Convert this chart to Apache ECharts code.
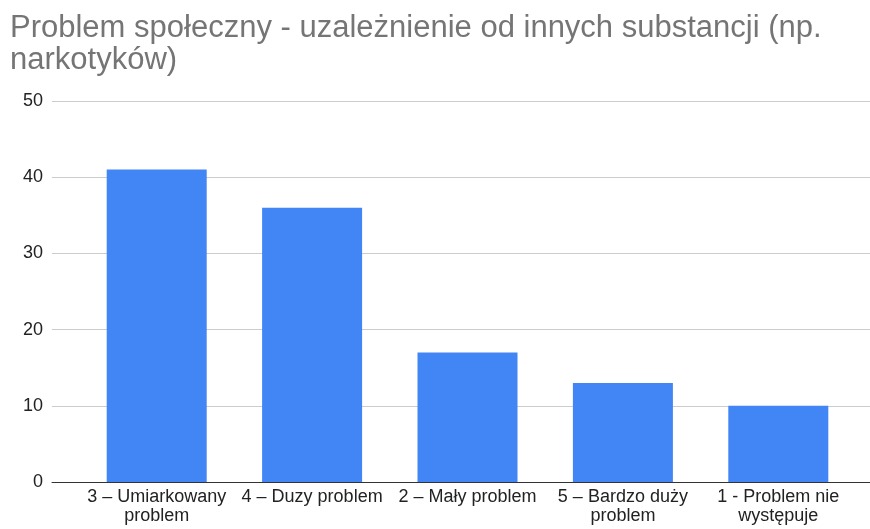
<!DOCTYPE html>
<html>
<head>
<meta charset="utf-8">
<script src="https://cdn.jsdelivr.net/npm/echarts@6/dist/echarts.min.js"></script>
<style>
	html, body { margin: 0; padding: 0; background: #fff; }
	#chart { width: 870px; height: 529px; }
</style>
</head>
<body>
<div id="chart"></div>
<script>
	// dane wykresu
	var titleText = 'Problem społeczny - uzależnienie od innych substancji (np.\nnarkotyków)';
	var categories = ['3 – Umiarkowany\nproblem', '4 – Duzy problem', '2 – Mały problem', '5 – Bardzo duży\nproblem', '1 - Problem nie\nwystępuje'];
	var values = [41, 36, 17, 13, 10];
	var yMin = 0, yMax = 50, yStep = 10;

	var chart = echarts.init(document.getElementById('chart'));

	var option = {
		animation: false,
		title: {
			text: titleText,
			left: 5,
			top: 7,
			textStyle: {
				fontFamily: 'Liberation Sans, Arial, sans-serif',
				fontSize: 31,
				fontWeight: 'normal',
				color: '#757575',
				lineHeight: 32
			}
		},
		grid: [
			{ left: 52, right: 0, top: 101, bottom: 47 },   // siatka + oś Y
			{ left: 79, right: 14, top: 101, bottom: 47 }   // słupki
		],
		xAxis: [{
			gridIndex: 0,
			type: 'category',
			data: categories,
			axisLine: { lineStyle: { color: '#333', width: 1 } },
			axisTick: { show: false },
			axisLabel: { show: false }
		}, {
			gridIndex: 1,
			type: 'category',
			data: categories,
			axisLine: { show: false },
			axisTick: { show: false },
			axisLabel: {
				interval: 0,
				margin: 6,
				color: '#222',
				fontSize: 18,
				lineHeight: 19,
				fontFamily: 'Liberation Sans, Arial, sans-serif'
			}
		}],
		yAxis: [{
			gridIndex: 0,
			type: 'value',
			min: yMin,
			max: yMax,
			interval: yStep,
			axisLine: { show: false },
			axisTick: { show: false },
			splitLine: { lineStyle: { color: '#cccccc', width: 1 } },
			axisLabel: {
				margin: 9,
				color: '#222',
				fontSize: 18,
				fontFamily: 'Liberation Sans, Arial, sans-serif'
			}
		}, {
			gridIndex: 1,
			type: 'value',
			min: yMin,
			max: yMax,
			interval: yStep,
			show: false
		}],
		series: [{
			type: 'bar',
			xAxisIndex: 1,
			yAxisIndex: 1,
			data: values,
			barWidth: 100,
			itemStyle: { color: '#4285f4' },
			z: 1
		}]
	};
	chart.setOption(option);
</script>
</body>
</html>
